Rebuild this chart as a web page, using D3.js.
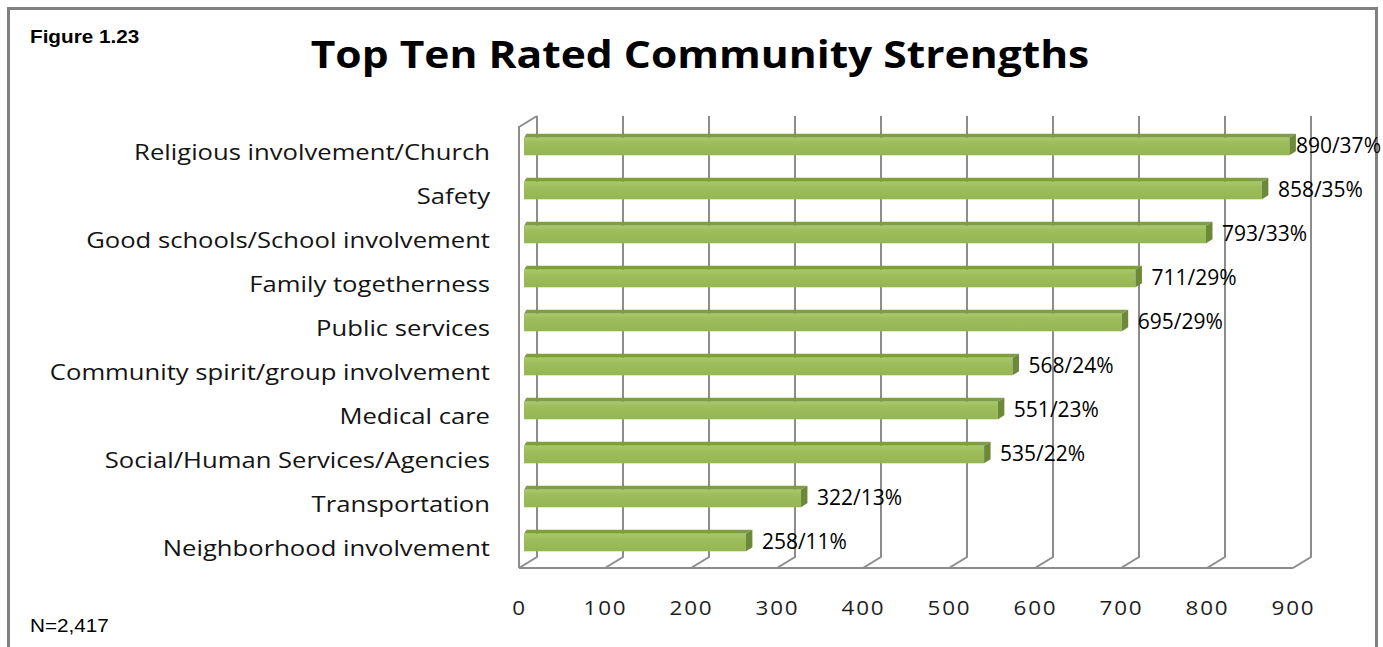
<!DOCTYPE html>
<html>
<head>
<meta charset="utf-8">
<script src="https://cdn.jsdelivr.net/npm/d3@7"></script>
<style>
  html, body { margin: 0; padding: 0; background: #ffffff; }
  svg { display: block; }
</style>
</head>
<body>
<svg id="chart" width="1383" height="647"></svg>
<script>
// Community strengths, ranked by number of responses
const categories = [
  "Religious involvement/Church",
  "Safety",
  "Good schools/School involvement",
  "Family togetherness",
  "Public services",
  "Community spirit/group involvement",
  "Medical care",
  "Social/Human Services/Agencies",
  "Transportation",
  "Neighborhood involvement"
];
const counts   = [890, 858, 793, 711, 695, 568, 551, 535, 322, 258];
const percents = [37, 35, 33, 29, 29, 24, 23, 22, 13, 11];
const countTicks = [0, 100, 200, 300, 400, 500, 600, 700, 800, 900];

const figureLabel = "Figure 1.23";
const titleText = "Top Ten Rated Community Strengths";
const sampleNote = "N=2,417";

// ---------------------------------------------------------------
const SX = 1.15;                 // horizontal text stretch
const svg = d3.select("#chart");

// outer frame
svg.append("rect")
  .attr("x", 8.5).attr("y", 8.5)
  .attr("width", 1368).attr("height", 700)
  .attr("fill", "#ffffff")
  .attr("stroke", "#808080")
  .attr("stroke-width", 3);

// scales: x on the front plane of the 3-D box, y bands for the bars
const x = d3.scaleLinear().domain([0, 900]).range([519, 1293]);
const y = d3.scaleBand().domain(categories)
  .range([124.5, 564.5]).paddingInner(0.6).paddingOuter(0.3);

const floorY = 568, wallTop = 127;   // front edge of floor, top of side wall
const DX = 18, DY = 11;              // depth of the box
const barShift = 5;                  // bars sit slightly behind the front plane
const barDX = 6.5, barDY = 4;        // bar depth

// back-wall gridlines with floor return
const grid = svg.append("g")
  .attr("fill", "none")
  .attr("stroke", "#8c8c8c")
  .attr("stroke-width", 2);

grid.selectAll("path.grid")
  .data(countTicks)
  .join("path")
  .attr("class", "grid")
  .attr("d", t => `M${x(t) + DX},${wallTop - DY} V${floorY - DY} L${x(t)},${floorY}`);

// side wall and floor front edge
grid.append("path")
  .attr("d", `M${x(0)},${floorY} V${wallTop} L${x(0) + DX},${wallTop - DY}`);
grid.append("path")
  .attr("d", `M${x(0)},${floorY} H${x(900)}`);

// bar shading
const defs = svg.append("defs");
const grad = defs.append("linearGradient")
  .attr("id", "barFront").attr("x1", 0).attr("y1", 0).attr("x2", 0).attr("y2", 1);
grad.append("stop").attr("offset", "0%").attr("stop-color", "#aac96c");
grad.append("stop").attr("offset", "25%").attr("stop-color", "#9ebd5d");
grad.append("stop").attr("offset", "100%").attr("stop-color", "#95b653");

const rows = categories.map((c, i) => ({ cat: c, count: counts[i], pct: percents[i] }));

const bars = svg.append("g").selectAll("g.bar")
  .data(rows)
  .join("g")
  .attr("class", "bar");

bars.each(function (d) {
  const g = d3.select(this);
  const x0 = x(0) + barShift, x1 = x(d.count) + barShift;
  const y0 = y(d.cat), y1 = y0 + y.bandwidth();
  // top face
  g.append("path")
    .attr("d", `M${x0},${y0} L${x1},${y0} L${x1 + barDX},${y0 - barDY} L${x0 + 2.5},${y0 - barDY} Z`)
    .attr("fill", "#7f9c47");
  // front face
  g.append("rect")
    .attr("x", x0).attr("y", y0)
    .attr("width", x1 - x0).attr("height", y1 - y0)
    .attr("fill", "url(#barFront)");
  // end face
  g.append("path")
    .attr("d", `M${x1},${y0} L${x1 + barDX},${y0 - barDY} L${x1 + barDX},${y1 - barDY} L${x1},${y1} Z`)
    .attr("fill", "#6c8838");
});

// value axis (front edge of floor)
const xAxis = d3.axisBottom(x)
  .tickValues(countTicks)
  .tickSize(0).tickPadding(0)
  .tickFormat(d3.format("d"));

const gx = svg.append("g")
  .attr("transform", "translate(0,615)")
  .call(xAxis);
gx.select(".domain").remove();
gx.attr("font-family", null).attr("font-size", null);
gx.selectAll("text")
  .attr("y", 0).attr("dy", null)
  .attr("transform", `scale(${SX},1)`)
  .attr("font-family", "Open Sans")
  .attr("font-size", 19.5)
  .attr("letter-spacing", 1.6)
  .attr("fill", "#1e1e1e");

// category axis
const yAxis = d3.axisLeft(y).tickSize(0).tickPadding(0);
const gy = svg.append("g")
  .attr("transform", "translate(490,0)")
  .call(yAxis);
gy.select(".domain").remove();
gy.attr("font-family", null).attr("font-size", null);
gy.selectAll("text")
  .attr("x", 0).attr("y", 13).attr("dy", null)
  .attr("transform", "scale(1.165,1)")
  .attr("font-family", "Open Sans")
  .attr("font-size", 22)
  .attr("fill", "#141414");

// value labels
const labels = svg.append("g").selectAll("g.lab")
  .data(rows)
  .join("g")
  .attr("class", "lab");

labels.each(function (d) {
  const g = d3.select(this);
  const t = g.append("text")
    .attr("font-family", "Open Sans")
    .attr("font-size", 21)
    .attr("fill", "#000")
    .text(`${d.count}/${d.pct}%`);
  const w = t.node().getComputedTextLength();
  const lx = Math.min(x(d.count) + barShift + 16, 1381 - w);
  const ly = y(d.cat) + y.bandwidth() / 2 + 6;
  g.attr("transform", `translate(${lx},${ly})`);
});

// title and notes
svg.append("g")
  .attr("transform", `translate(700,68) scale(${SX},1)`)
  .append("text")
  .attr("text-anchor", "middle")
  .attr("font-family", "Open Sans")
  .attr("font-weight", "bold")
  .attr("font-size", 37)
  .attr("fill", "#000")
  .text(titleText);

svg.append("g")
  .attr("transform", `translate(30,43) scale(${SX},1)`)
  .append("text")
  .attr("font-family", "Liberation Sans")
  .attr("font-weight", "bold")
  .attr("font-size", 18)
  .attr("fill", "#000")
  .text(figureLabel);

svg.append("g")
  .attr("transform", `translate(30,632) scale(${SX},1)`)
  .append("text")
  .attr("font-family", "Liberation Sans")
  .attr("font-size", 18)
  .attr("fill", "#000")
  .text(sampleNote);
</script>
</body>
</html>
